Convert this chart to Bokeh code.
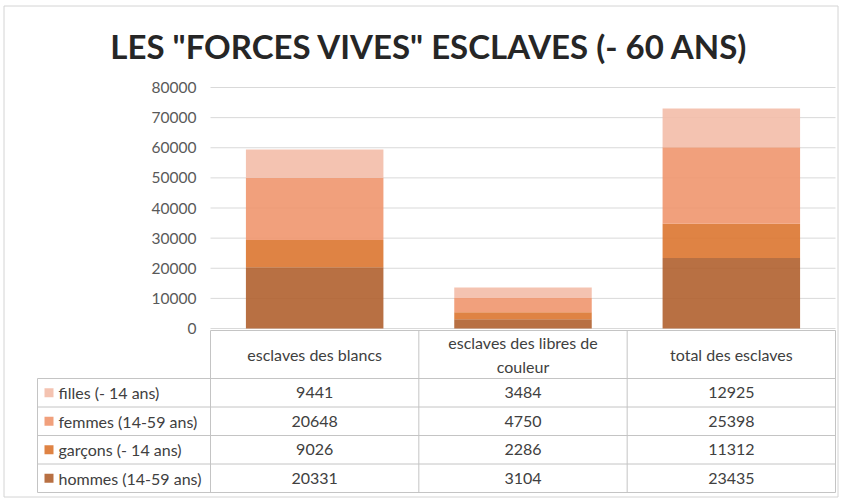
from bokeh.plotting import figure
from bokeh.models import Range1d, FixedTicker, ColumnDataSource, NumeralTickFormatter
from bokeh.embed import file_html
from bokeh.resources import INLINE
from bokeh.core.properties import value

# ---------------- data ----------------
categories = ["esclaves des blancs", "esclaves des libres de couleur", "total des esclaves"]
header_labels = ["esclaves des blancs", "esclaves des libres de\ncouleur", "total des esclaves"]
series_keys = ["hommes", "garcons", "femmes", "filles"]          # bottom -> top
series_labels = ["hommes (14-59 ans)", "garçons (- 14 ans)", "femmes (14-59 ans)", "filles (- 14 ans)"]
hommes = [20331, 3104, 23435]
garcons = [9026, 2286, 11312]
femmes = [20648, 4750, 25398]
filles = [9441, 3484, 12925]
y_ticks = [0, 10000, 20000, 30000, 40000, 50000, 60000, 70000, 80000]
title_text = 'LES "FORCES VIVES" ESCLAVES (- 60 ANS)'

# ---------------- styles / layout helpers ----------------
colors = ["#B0602F", "#DC7630", "#F0966E", "#F3BCA9"]
FONT = "Lato"
grid_color = "#d9d9d9"
border_color = "#d4d4d4"
table_line = "#c4c4c4"
text_color = "#404040"
FS = "16px"

W, H = 841, 498
PLOT_L, PLOT_R, PLOT_T, PLOT_B = 210, 835, 87, 328   # plot area in page pixels
YMAX = y_ticks[-1]
n = len(categories)
col_px = (PLOT_R - PLOT_L) / n


def xd(px):
    return (px - PLOT_L) / col_px


def yd(py):
    return YMAX * (PLOT_B - py) / (PLOT_B - PLOT_T)


p = figure(x_range=Range1d(xd(0), xd(W)), y_range=Range1d(yd(H), yd(0)),
           width=W, height=H, output_backend="svg", toolbar_location=None,
           min_border=0, min_border_left=0, min_border_right=0, min_border_bottom=0,
           min_border_top=0, x_axis_location=None)
p.grid.visible = False
p.outline_line_color = None

# outer chart border
bx = [xd(3.5), xd(837.5), xd(837.5), xd(3.5), xd(3.5)]
by = [yd(5.5), yd(5.5), yd(496.5), yd(496.5), yd(5.5)]
p.line(x=bx, y=by, line_color=border_color, line_width=1)

# gridlines (at the tick values, across the plot area)
p.segment(x0=[0] * len(y_ticks), y0=y_ticks, x1=[n] * len(y_ticks), y1=y_ticks,
          line_color=grid_color, line_width=1)

# stacked bars
src = ColumnDataSource(dict(x=[i + 0.5 for i in range(n)], hommes=hommes, garcons=garcons,
                            femmes=femmes, filles=filles))
p.vbar_stack(series_keys, x="x", width=0.66, fill_color=colors, fill_alpha=0.9,
             line_color=None, source=src)

# title
p.text(x=[xd(429)], y=[yd(45.5)], text=[title_text], text_align="center", text_baseline="middle",
       text_font=value(FONT), text_font_style="bold", text_font_size="33px",
       text_color="#262626")

# y axis placed at the plot-area left edge
ax = p.yaxis[0]
ax.fixed_location = 0
ax.ticker = FixedTicker(ticks=y_ticks)
ax.formatter = NumeralTickFormatter(format="0")
ax.axis_line_color = None
ax.major_tick_line_color = None
ax.minor_tick_line_color = None
ax.major_tick_out = 0
ax.major_tick_in = 0
ax.major_label_standoff = 14
ax.major_label_text_font = FONT
ax.major_label_text_font_size = "15.5px"
ax.major_label_text_color = "#595959"

# ---------------- data table ----------------
T_TOP, H_BOT, T_BOT = 330, 378, 492
LEG_L = 37
row_px = (T_BOT - H_BOT) / 4.0
rows_top_down = list(reversed(range(len(series_keys))))   # filles, femmes, garcons, hommes
series_vals = [hommes, garcons, femmes, filles]

sx0, sy0, sx1, sy1 = [], [], [], []
sx0.append(0); sy0.append(yd(T_TOP)); sx1.append(n); sy1.append(yd(T_TOP))
for r in range(5):
    yy = yd(H_BOT + r * row_px)
    sx0.append(xd(LEG_L)); sy0.append(yy); sx1.append(n); sy1.append(yy)
for c in range(n + 1):
    sx0.append(c); sy0.append(yd(T_TOP)); sx1.append(c); sy1.append(yd(T_BOT))
sx0.append(xd(LEG_L)); sy0.append(yd(H_BOT)); sx1.append(xd(LEG_L)); sy1.append(yd(T_BOT))
p.segment(x0=sx0, y0=sy0, x1=sx1, y1=sy1, line_color=table_line, line_width=1)

# header texts
p.text(x=[i + 0.5 for i in range(n)], y=[yd((T_TOP + H_BOT) / 2)] * n, text=header_labels,
       text_align="center", text_baseline="middle", text_font=value(FONT),
       text_font_size=FS, text_color=text_color, text_line_height=1.3)

# values, keys, labels
vx, vy, vt = [], [], []
ky, kc, lt = [], [], []
for r, s in enumerate(rows_top_down):
    yc = yd(H_BOT + (r + 0.5) * row_px)
    for i in range(n):
        vx.append(i + 0.5); vy.append(yc); vt.append(str(series_vals[s][i]))
    ky.append(yc); kc.append(colors[s]); lt.append(series_labels[s])
p.text(x=vx, y=vy, text=vt, text_align="center", text_baseline="middle",
       text_font=value(FONT), text_font_size=FS, text_color=text_color)
p.scatter(x=[xd(48.5)] * 4, y=ky, marker="square", size=9, fill_color=kc, fill_alpha=0.9,
          line_color=None)
p.text(x=[xd(58)] * 4, y=ky, text=lt, text_align="left", text_baseline="middle",
       text_font=value(FONT), text_font_size=FS, text_color=text_color)

open("out.html", "w").write(file_html(p, INLINE))
